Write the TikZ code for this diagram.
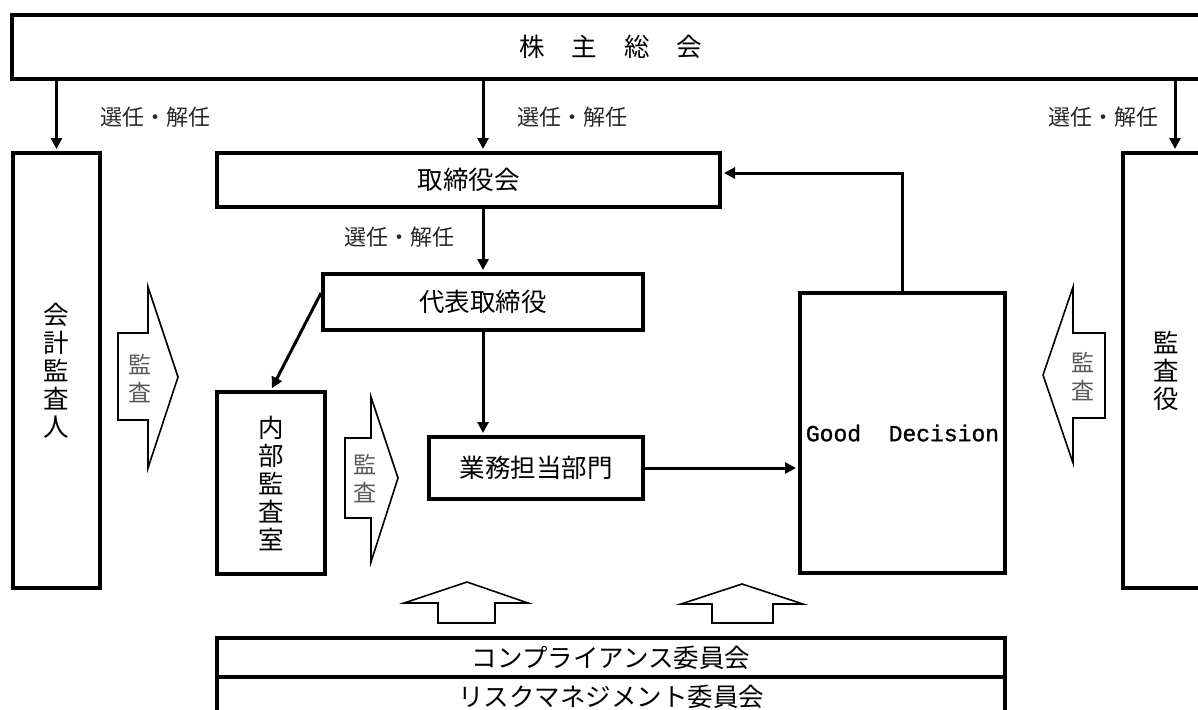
\documentclass[tikz,border=0pt]{standalone}
\usepackage{fontspec}
\setmainfont{Noto Sans CJK JP}
\newfontfamily\monofont[FakeBold=1.2]{Liberation Mono}
\usetikzlibrary{arrows.meta,calc}
\tikzset{
	box/.style={draw, line width=4pt, inner sep=0pt, align=center,
			font=\fontsize{25.5}{28}\selectfont},
	conn/.style={line width=3pt, shorten >=2pt,
			-{Triangle[length=11pt,width=11pt]}},
	elect/.style={inner sep=0pt, text=black!85, font=\fontsize{22}{26}\selectfont},
	kansa/.style={inner sep=0pt, align=center, text=black!65,
			font=\fontsize{23}{28}\selectfont},
	blockarrow/.style={draw, line width=1.6pt, line join=miter}
}

\begin{document}
\begin{tikzpicture}[x=1pt,y=-1pt]
	\useasboundingbox (0,0) rectangle (1198,709);
	\clip (0,0) rectangle (1198,709);

	% shareholders meeting
	\node[box, minimum width=1198, minimum height=63] (soukai) at (611,47)
		{株\hspace{27pt}主\hspace{27pt}総\hspace{27pt}会};

	% boxes
	\node[box, minimum width=87, minimum height=435] (kaikei) at (56.5,370.5) {会\\計\\監\\査\\人};
	\node[box, minimum width=503, minimum height=54] (torikai) at (468.5,180) {取締役会};
	\node[box, minimum width=320, minimum height=56] (daihyo) at (483,302) {代表取締役};
	\node[box, minimum width=108, minimum height=182] (naibu) at (271,483) {内\\部\\監\\査\\室};
	\node[box, minimum width=214, minimum height=62] (gyomu) at (536,468) {業務担当部門};
	\node[box, minimum width=205, minimum height=280,
		font=\monofont\fontsize{23}{26}\selectfont] (good) at (902.5,433) {Good\ \ Decision};
	\node[box, minimum width=87, minimum height=435] (kansayaku) at (1166.5,370.5) {監\\査\\役};

	% committees
	\node[box, minimum width=788, minimum height=39] (comp) at (611,657.5) {コンプライアンス委員会};
	\node[box, minimum width=788, minimum height=39] (risk) at (611,696.5) {リスクマネジメント委員会};

	% appointment / dismissal
	\coordinate (kyTop) at ([xshift=8.5pt]kansayaku.north);
	\draw[conn] (kaikei.north |- soukai.south) -- (kaikei.north);
	\draw[conn] (daihyo.north |- soukai.south) -- (daihyo.north |- torikai.north);
	\draw[conn] (kyTop |- soukai.south) -- (kyTop);
	\draw[conn] (daihyo.north |- torikai.south) -- (daihyo.north);
	\node[elect] (elect1) at (155,117) {選任・解任};
	\node[elect] (elect2) at (572,117) {選任・解任};
	\node[elect] (elect3) at (1103,117) {選任・解任};
	\node[elect] (elect4) at (399,237) {選任・解任};

	% line of command
	\draw[conn] (daihyo.south) -- (daihyo.south |- gyomu.north);
	\draw[conn] ([yshift=9pt]daihyo.west) -- (naibu.north);
	\draw[conn] (gyomu.east) -- (gyomu.east -| good.west);
	\draw[conn] (good.north) |- ([yshift=7pt]torikai.east);

	% audit arrows
	\draw[blockarrow] (118,333) -- (148,333) -- (148,287) -- (178,377)
		-- (148,468) -- (148,420) -- (118,420) -- cycle;
	\node[kansa] (kansa1) at (140,379) {監\\査};
	\draw[blockarrow] (345,438) -- (371,438) -- (371,397) -- (398,478)
		-- (371,562) -- (371,518) -- (345,518) -- cycle;
	\node[kansa] (kansa2) at (365,479) {監\\査};
	\draw[blockarrow] (1105,333) -- (1073,333) -- (1073,287) -- (1043,375)
		-- (1073,463) -- (1073,418) -- (1105,418) -- cycle;
	\node[kansa] (kansa3) at (1083,377) {監\\査};

	% support from committees
	\draw[blockarrow] (438,623) -- (438,603) -- (404,603) -- (467,582)
		-- (528,603) -- (495,603) -- (495,623) -- cycle;
	\draw[blockarrow] (712,623) -- (712,604) -- (681,604) -- (742,584)
		-- (803,604) -- (773,604) -- (773,623) -- cycle;
\end{tikzpicture}
\end{document}
